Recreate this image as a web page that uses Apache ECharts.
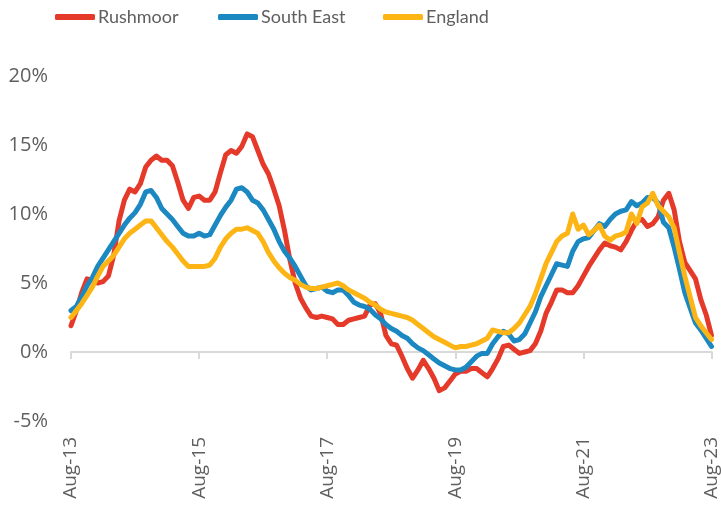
<!DOCTYPE html>
<html>
<head>
<meta charset="utf-8">
<script src="https://cdn.jsdelivr.net/npm/echarts@6/dist/echarts.min.js"></script>
<style>
html,body{margin:0;padding:0;background:#fff;}
#chart{width:721px;height:509px;}
</style>
</head>
<body>
<div id="chart"></div>
<script>
var monthNames = ['Jan','Feb','Mar','Apr','May','Jun','Jul','Aug','Sep','Oct','Nov','Dec'];
var startYear = 2013, startMonth = 7, monthCount = 121;
var categories = [];
for (var k = 0; k < monthCount; k++) {
  var m = (startMonth + k) % 12;
  var y = startYear + Math.floor((startMonth + k) / 12);
  categories.push(monthNames[m] + '-' + String(y).slice(2));
}

var seriesNames = ['Rushmoor', 'South East', 'England'];

var rushmoor = [
  1.9, 3.0, 4.3, 5.3, 5.2, 5.0, 5.1, 5.5, 7.0, 9.5,
  11.0, 11.8, 11.6, 12.2, 13.4, 13.9, 14.2, 13.9, 13.9, 13.5,
  12.3, 11.0, 10.4, 11.2, 11.3, 11.0, 11.0, 11.6, 13.0, 14.3,
  14.6, 14.4, 14.9, 15.8, 15.6, 14.6, 13.6, 12.9, 11.8, 10.6,
  8.8, 6.7, 5.0, 3.9, 3.2, 2.6, 2.5, 2.6, 2.5, 2.4,
  2.0, 2.0, 2.3, 2.4, 2.5, 2.6, 3.4, 3.5, 2.8, 1.2,
  0.6, 0.5, -0.3, -1.2, -1.9, -1.3, -0.6, -1.2, -1.9, -2.8,
  -2.6, -2.1, -1.6, -1.4, -1.4, -1.2, -1.2, -1.5, -1.8, -1.2,
  -0.5, 0.4, 0.5, 0.2, -0.1, 0.0, 0.1, 0.6, 1.5, 2.8,
  3.6, 4.5, 4.5, 4.3, 4.3, 4.8, 5.5, 6.2, 6.8, 7.4,
  7.9, 7.7, 7.6, 7.4, 8.0, 8.8, 9.5, 9.6, 9.1, 9.3,
  9.8, 11.0, 11.5, 10.3, 8.0, 6.5, 5.9, 5.3, 3.8, 2.7,
  1.2
];

var southEast = [
  3.0, 3.3, 4.0, 4.8, 5.4, 6.2, 6.8, 7.4, 8.0, 8.6,
  9.2, 9.7, 10.1, 10.7, 11.6, 11.7, 11.2, 10.4, 10.0, 9.6,
  9.1, 8.6, 8.4, 8.4, 8.6, 8.4, 8.5, 9.2, 9.9, 10.5,
  11.0, 11.8, 11.9, 11.6, 11.0, 10.8, 10.3, 9.6, 8.9, 8.0,
  7.3, 6.8, 6.2, 5.5, 4.8, 4.5, 4.6, 4.7, 4.4, 4.3,
  4.5, 4.5, 4.1, 3.6, 3.4, 3.3, 3.1, 2.7, 2.4, 2.0,
  1.7, 1.5, 1.2, 1.0, 0.6, 0.3, 0.1, -0.2, -0.5, -0.8,
  -1.0, -1.2, -1.3, -1.3, -1.1, -0.7, -0.3, -0.1, -0.1, 0.6,
  1.1, 1.5, 1.3, 0.8, 0.9, 1.3, 2.1, 2.9, 4.0, 4.8,
  5.6, 6.4, 6.3, 6.2, 7.3, 8.0, 8.2, 8.3, 8.8, 9.3,
  9.1, 9.6, 10.0, 10.2, 10.3, 10.9, 10.6, 10.8, 11.2, 11.2,
  10.8, 9.4, 9.0, 7.6, 6.0, 4.3, 3.2, 2.1, 1.6, 1.0,
  0.4
];

var england = [
  2.5, 3.0, 3.5, 4.1, 4.7, 5.5, 6.2, 6.6, 7.0, 7.6,
  8.2, 8.6, 8.9, 9.2, 9.5, 9.5, 9.0, 8.5, 8.0, 7.6,
  7.1, 6.6, 6.2, 6.2, 6.2, 6.2, 6.3, 6.8, 7.6, 8.2,
  8.6, 8.9, 8.9, 9.0, 8.8, 8.6, 8.0, 7.2, 6.6, 6.1,
  5.7, 5.4, 5.2, 4.9, 4.7, 4.6, 4.6, 4.7, 4.8, 4.9,
  5.0, 4.8, 4.5, 4.3, 4.1, 3.9, 3.6, 3.4, 3.1, 2.9,
  2.8, 2.7, 2.6, 2.5, 2.3, 2.0, 1.7, 1.4, 1.1, 0.9,
  0.7, 0.5, 0.3, 0.4, 0.4, 0.5, 0.6, 0.8, 1.0, 1.6,
  1.5, 1.4, 1.4, 1.7, 2.1, 2.7, 3.3, 4.2, 5.3, 6.4,
  7.2, 8.0, 8.4, 8.6, 10.0, 8.9, 9.2, 8.5, 8.8, 9.2,
  8.4, 8.1, 8.4, 8.5, 8.7, 10.0, 9.3, 10.5, 10.8, 11.5,
  10.6, 10.2, 9.8, 9.0, 7.2, 5.5, 4.0, 2.5, 1.9, 1.4,
  0.9
];

var yMin = -5, yMax = 20, yStep = 5;

var colors = ['#E5392A', '#1B88C2', '#FDB515'];
var textColor = '#5f5f5f';
var legendFont = "Lato, 'Open Sans', sans-serif";
var axisFont = "'Open Sans', sans-serif";
var legendLefts = [55, 218, 383];

var chart = echarts.init(document.getElementById('chart'), null, {renderer: 'canvas'});
var seriesData = [rushmoor, southEast, england];
var series = seriesNames.map(function (name, idx) {
  return {
    name: name,
    type: 'line',
    xAxisIndex: 0,
    data: seriesData[idx],
    symbol: 'none',
    smooth: false,
    lineStyle: {width: 5, color: colors[idx], cap: 'round', join: 'round'},
    itemStyle: {color: colors[idx]},
    animation: false
  };
});

var legends = seriesNames.map(function (name, idx) {
  return {
    top: 8,
    left: legendLefts[idx],
    padding: 0,
    itemWidth: 40,
    itemHeight: 6,
    icon: 'roundRect',
    textStyle: {color: textColor, fontSize: 18, fontFamily: legendFont, padding: [0, 0, 0, -2]},
    data: [name]
  };
});

chart.setOption({
  animation: false,
  color: colors,
  legend: legends,
  grid: {left: 71, right: 8, top: 76, bottom: 88, containLabel: false},
  xAxis: [{
    type: 'category',
    data: categories,
    boundaryGap: false,
    axisLine: {onZero: true, lineStyle: {color: '#d9d9d9', width: 2}},
    axisTick: {show: true, interval: 23, length: 7, lineStyle: {color: '#d9d9d9', width: 2}},
    axisLabel: {show: false},
    splitLine: {show: false}
  }, {
    type: 'category',
    data: categories,
    boundaryGap: false,
    position: 'bottom',
    axisLine: {show: false, onZero: false},
    axisTick: {show: false},
    axisLabel: {
      show: true, interval: 23, rotate: 90, margin: 16,
      color: textColor, fontSize: 19, fontFamily: axisFont
    },
    splitLine: {show: false}
  }],
  yAxis: {
    type: 'value',
    min: yMin, max: yMax, interval: yStep,
    axisLine: {show: false},
    axisTick: {show: false},
    splitLine: {show: false},
    axisLabel: {
      formatter: '{value}%', margin: 23,
      color: textColor, fontSize: 20, fontFamily: axisFont
    }
  },
  series: series
});
</script>
</body>
</html>
